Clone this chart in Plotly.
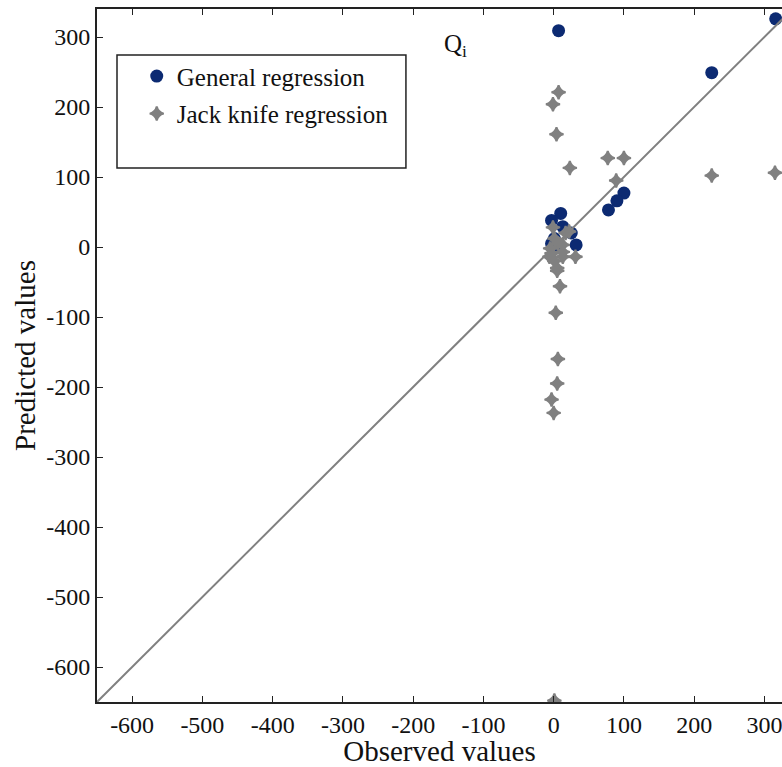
import plotly.graph_objects as go

# General regression (observed, predicted)
gen_obs = [316, 225, 7, 100, 90, 78, 10, -3, 13, 25, 1, 32, -3, 6, 2]
gen_pred = [326, 249, 309, 77, 66, 53, 48, 38, 29, 20, 12, 3, 5, 0, 8]

# Jack knife regression (observed, predicted)
jk_obs = [7, -1, 4, 23, 77, 100, 89, 225, 315,
          -1, 22, 17, 1, 13, 6, -5, 13, -3, -6, 13, 31, 1, 5, 5, 9, 3, 6, 5, -3, 0, 1]
jk_pred = [221, 204, 161, 113, 127, 127, 95, 102, 106,
           28, 22, 20, 12, 3, 5, -2, -7, -9, -14, -14, -14, -20, -30, -34, -56, -94, -160, -195, -218, -237, -648]

diag = [-650, 340]
tick_vals = [-600, -500, -400, -300, -200, -100, 0, 100, 200, 300]
tick_text = ["-600", "-500", "-400", "-300", "-200", "-100", "0", "100", "200", "300"]

FONT = "Liberation Serif"

fig = go.Figure()
fig.add_trace(go.Scatter(
    x=gen_obs, y=gen_pred, mode="markers", name="General regression",
    marker=dict(symbol="circle", size=13, color="#0c2a72"), legendgroup="a"))
fig.add_trace(go.Scatter(
    x=diag, y=diag, mode="lines", showlegend=False,
    line=dict(color="#808080", width=2)))
fig.add_trace(go.Scatter(
    x=jk_obs, y=jk_pred, mode="markers", name="Jack knife regression",
    marker=dict(symbol="star-diamond", size=10, color="#808080",
                line=dict(color="#808080", width=2)), legendgroup="b"))

fig.update_layout(
    width=782, height=767,
    margin=dict(l=97, r=0, t=9, b=65),
    paper_bgcolor="white", plot_bgcolor="white",
    font=dict(family=FONT, size=24, color="#111111"),
    showlegend=True,
    legend=dict(x=0.058, y=0.936, xanchor="left", yanchor="top",
                bgcolor="rgba(0,0,0,0)", borderwidth=0,
                font=dict(family=FONT, size=25), tracegroupgap=2),
    shapes=[dict(type="rect", xref="paper", yref="paper",
                 x0=0.0292, x1=0.451, y0=0.7706, y1=0.9336,
                 line=dict(color="#222222", width=1.5), fillcolor="rgba(0,0,0,0)")],
    annotations=[dict(text="Q<sub>i</sub>", xref="paper", yref="paper",
                      x=0.523, y=0.972, showarrow=False,
                      font=dict(family=FONT, size=25, color="#111111"))],
)
fig.update_xaxes(
    range=[-650, 325], tickvals=tick_vals, ticktext=tick_text,
    ticks="inside", ticklen=6, ticklabeloverflow="allow",
    tickcolor="#222222", showline=True, linecolor="#222222", linewidth=2,
    mirror="ticks", showgrid=False, zeroline=False,
    title=dict(text="Observed values", standoff=7))
fig.update_yaxes(
    range=[-650, 340], tickvals=tick_vals, ticktext=tick_text,
    ticks="inside", ticklen=6,
    tickcolor="#222222", showline=True, linecolor="#222222", linewidth=2,
    showgrid=False, zeroline=False,
    title=dict(text="Predicted values", standoff=2))

fig.write_html("out.html")
